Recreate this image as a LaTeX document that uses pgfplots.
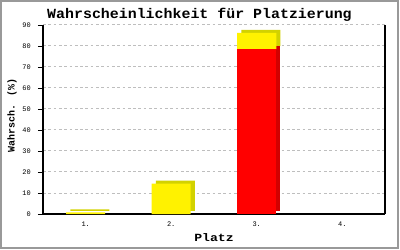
\documentclass[border=0pt]{standalone}
\usepackage{fontspec}
\usepackage{pgfplots}
\pgfplotsset{compat=1.18}
\newfontfamily\titlefont[FakeStretch=1.07]{Liberation Mono}
\newfontfamily\platzfont[FakeStretch=1.2]{Liberation Mono}
\newfontfamily\labfont{Liberation Mono}
\newfontfamily\tickfont{Liberation Mono}
\definecolor{darkyellow}{RGB}{210,210,0}
\definecolor{darkred}{RGB}{210,0,0}
\definecolor{gridgray}{RGB}{190,190,190}
\definecolor{framegray}{RGB}{153,153,153}
\begin{document}
\begin{tikzpicture}
\useasboundingbox (-43bp,-36bp) rectangle (357bp,214bp);
\draw[framegray, line width=2bp] (-42bp,-33.5bp) rectangle (355bp,213bp);
% back axis: grid and 3D shadows
\begin{axis}[
  width=342bp, height=189bp, scale only axis,
  xmin=0.5, xmax=4.5, ymin=0, ymax=90, enlargelimits=false,
  ybar stacked, bar width=39bp, clip=false,
  axis line style={draw=none},
  xtick=\empty, ytick={10,20,...,90}, yticklabel=\empty,
  ytick style={draw=none},
  ymajorgrids,
  major grid style={gridgray, line width=1bp, dash pattern=on 2.7bp off 2.6bp},
]
\addplot[fill=darkred, draw=none, xshift=4bp, yshift=3bp] coordinates {(1,0) (2,0) (3,78.5) (4,0)};
\addplot[fill=darkyellow, draw=none, xshift=4bp, yshift=3bp] coordinates {(1,0.8) (2,14.5) (3,7.8) (4,0)};
\end{axis}
% front axis
\begin{axis}[
  width=342bp, height=189bp, scale only axis,
  xmin=0.5, xmax=4.5, ymin=0, ymax=90, enlargelimits=false,
  ybar stacked, bar width=39bp, clip=false,
  axis x line*=bottom, axis y line*=left,
  axis line style={line width=1.5bp, black, -},
  xtick={1,2,3,4}, xticklabels={1.,2.,3.,4.}, xtick style={draw=none},
  ytick={0,10,...,90}, tick align=outside, major tick length=5bp,
  ytick style={line width=1bp, black},
  /pgf/number format/assume math mode=true,
  ticklabel style={font=\tickfont\fontsize{7}{8}\selectfont},
  yticklabel style={anchor=east, inner sep=0pt, xshift=-7bp},
  xticklabel style={anchor=center, inner sep=0pt, yshift=-5bp},
  every axis title shift=0pt,
  title={Wahrscheinlichkeit für Platzierung},
  title style={at={(axis description cs:0.4576,1.0354)}, anchor=base, inner sep=0pt, yshift=0pt,
    font=\titlefont\bfseries\fontsize{14}{16}\selectfont},
  xlabel={Platz},
  xlabel style={at={(axis description cs:0.5,-0.1466)}, anchor=base, inner sep=0pt,
    font=\platzfont\bfseries\fontsize{11}{12}\selectfont},
  ylabel={Wahrsch. (\%)},
  ylabel style={at={(axis description cs:-0.0906,0.521)}, anchor=center, inner sep=0pt,
    font=\labfont\bfseries\fontsize{10}{12}\selectfont},
]
\addplot[fill=red, draw=none] coordinates {(1,0) (2,0) (3,78.5) (4,0)};
\addplot[fill=yellow, draw=none] coordinates {(1,0.8) (2,14.5) (3,7.8) (4,0)};
\draw[line width=1.5bp, black] (rel axis cs:1,0) -- (rel axis cs:1,1);
\end{axis}
\end{tikzpicture}
\end{document}
